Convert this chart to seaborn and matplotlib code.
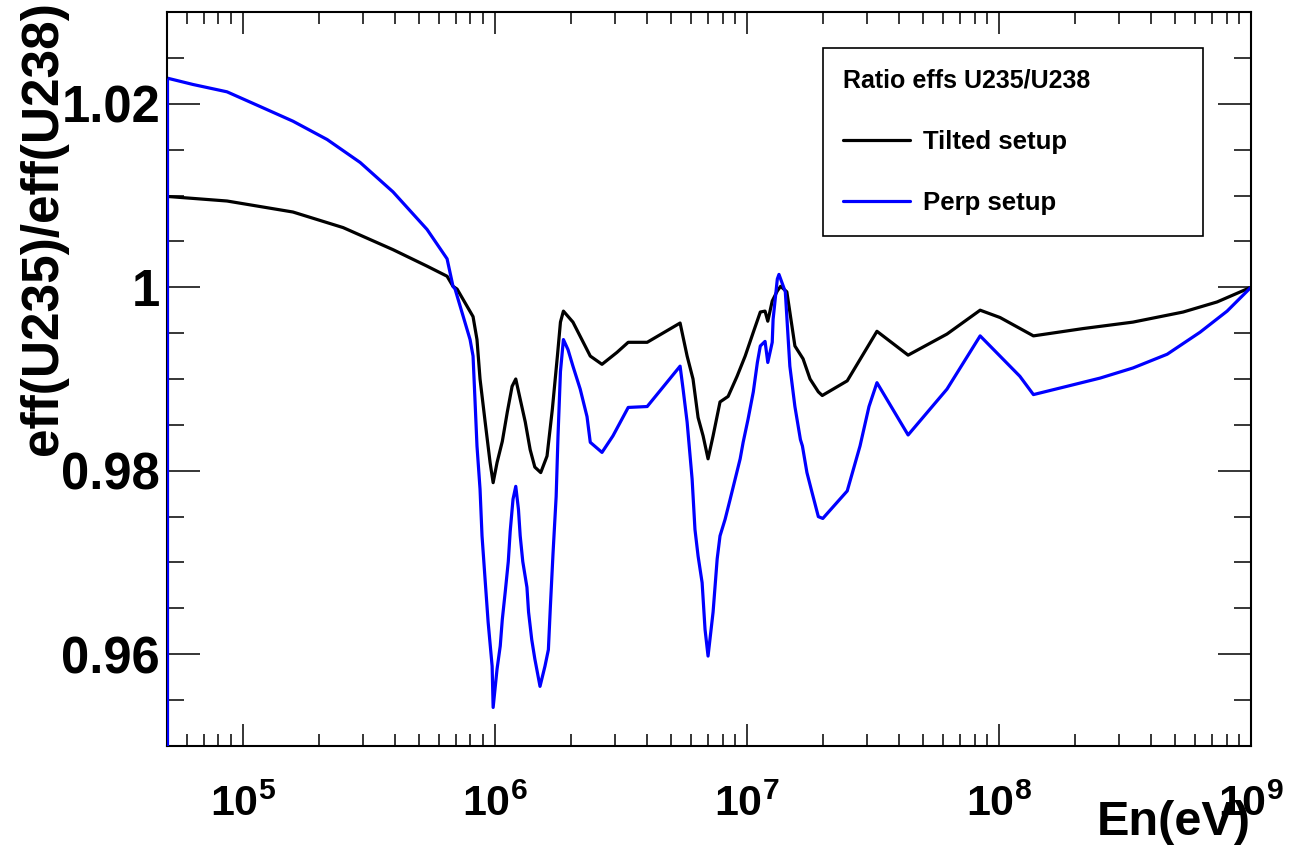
import numpy as np
import pandas as pd
import matplotlib
matplotlib.use("Agg")
import matplotlib.pyplot as plt
import matplotlib.ticker as mticker
import seaborn as sns

# ---------------- data ----------------
tilted_E = [5.0e4, 8.65e4, 1.58e5, 2.50e5, 3.94e5, 5.38e5, 6.46e5, 6.82e5, 7.08e5, 8.19e5,
            8.49e5, 8.73e5, 9.14e5, 9.57e5, 9.84e5, 1.02e6, 1.07e6, 1.12e6, 1.17e6, 1.21e6,
            1.26e6, 1.32e6, 1.38e6, 1.44e6, 1.52e6, 1.61e6, 1.69e6, 1.77e6, 1.82e6, 1.87e6,
            2.04e6, 2.39e6, 2.66e6, 3.05e6, 3.38e6, 4.02e6, 5.43e6, 5.79e6, 6.11e6, 6.40e6,
            6.70e6, 7.01e6, 7.34e6, 7.82e6, 8.42e6, 9.14e6, 9.84e6, 1.06e7, 1.13e7, 1.18e7,
            1.21e7, 1.26e7, 1.32e7, 1.36e7, 1.44e7, 1.51e7, 1.55e7, 1.67e7, 1.78e7, 1.92e7,
            1.99e7, 2.50e7, 3.28e7, 4.36e7, 6.22e7, 8.42e7, 1.01e8, 1.37e8, 2.16e8, 3.40e8,
            5.38e8, 7.34e8, 1.0e9]
tilted_ratio = [1.0099, 1.0094, 1.0082, 1.0065, 1.0041, 1.0023, 1.0012, 1.0001, 0.9998, 0.9968,
                0.9943, 0.9900, 0.9854, 0.9809, 0.9787, 0.9809, 0.9832, 0.9864, 0.9892, 0.9900,
                0.9878, 0.9853, 0.9823, 0.9804, 0.9798, 0.9816, 0.9867, 0.9925, 0.9962, 0.9974,
                0.9962, 0.9925, 0.9916, 0.9929, 0.9940, 0.9940, 0.9961, 0.9925, 0.9900, 0.9858,
                0.9838, 0.9813, 0.9838, 0.9875, 0.9881, 0.9903, 0.9925, 0.9951, 0.9973, 0.9974,
                0.9963, 0.9985, 0.9996, 1.0001, 0.9995, 0.9957, 0.9936, 0.9922, 0.9900, 0.9886,
                0.9882, 0.9898, 0.9952, 0.9926, 0.9949, 0.9975, 0.9967, 0.9947, 0.9955, 0.9962,
                0.9973, 0.9984, 1.0000]

perp_E = [5.0e4, 6.34e4, 8.65e4, 1.17e5, 1.58e5, 2.16e5, 2.92e5, 3.94e5, 5.38e5, 6.46e5,
          6.82e5, 6.95e5, 7.97e5, 8.19e5, 8.34e5, 8.49e5, 8.73e5, 8.89e5, 9.14e5, 9.40e5,
          9.75e5, 9.84e5, 1.02e6, 1.05e6, 1.07e6, 1.10e6, 1.13e6, 1.15e6, 1.18e6, 1.21e6,
          1.24e6, 1.26e6, 1.29e6, 1.34e6, 1.36e6, 1.40e6, 1.44e6, 1.51e6, 1.58e6, 1.63e6,
          1.66e6, 1.70e6, 1.75e6, 1.78e6, 1.82e6, 1.87e6, 1.95e6, 2.04e6, 2.18e6, 2.32e6,
          2.39e6, 2.66e6, 2.94e6, 3.38e6, 4.02e6, 5.43e6, 5.58e6, 5.79e6, 6.06e6, 6.22e6,
          6.40e6, 6.64e6, 6.82e6, 7.01e6, 7.34e6, 7.62e6, 7.82e6, 8.19e6, 8.58e6, 8.98e6,
          9.40e6, 9.66e6, 1.01e7, 1.06e7, 1.10e7, 1.13e7, 1.18e7, 1.21e7, 1.26e7, 1.27e7,
          1.32e7, 1.34e7, 1.42e7, 1.48e7, 1.55e7, 1.63e7, 1.66e7, 1.73e7, 1.81e7, 1.92e7,
          2.00e7, 2.50e7, 2.81e7, 3.05e7, 3.28e7, 4.36e7, 6.22e7, 8.42e7, 1.21e8, 1.37e8,
          1.86e8, 2.52e8, 3.40e8, 4.65e8, 6.28e8, 8.04e8, 1.0e9]
perp_ratio = [1.0228, 1.0221, 1.0213, 1.0197, 1.0181, 1.0161, 1.0136, 1.0104, 1.0063, 1.0031,
              1.0001, 0.9998, 0.9943, 0.9925, 0.9876, 0.9827, 0.9780, 0.9729, 0.9682, 0.9635,
              0.9587, 0.9542, 0.9584, 0.9609, 0.9638, 0.9669, 0.9701, 0.9734, 0.9769, 0.9783,
              0.9758, 0.9729, 0.9701, 0.9673, 0.9646, 0.9616, 0.9595, 0.9565, 0.9587, 0.9605,
              0.9652, 0.9709, 0.9772, 0.9838, 0.9908, 0.9943, 0.9932, 0.9914, 0.9889, 0.9859,
              0.9831, 0.9820, 0.9838, 0.9869, 0.9870, 0.9914, 0.9889, 0.9853, 0.9791, 0.9736,
              0.9707, 0.9678, 0.9627, 0.9598, 0.9646, 0.9704, 0.9729, 0.9747, 0.9769, 0.9791,
              0.9813, 0.9831, 0.9856, 0.9886, 0.9918, 0.9936, 0.9941, 0.9918, 0.9940, 0.9965,
              1.0009, 1.0014, 0.9995, 0.9914, 0.9870, 0.9834, 0.9827, 0.9798, 0.9777, 0.9750,
              0.9748, 0.9778, 0.9827, 0.9870, 0.9896, 0.9839, 0.9889, 0.9947, 0.9903, 0.9883,
              0.9892, 0.9901, 0.9912, 0.9927, 0.9951, 0.9974, 1.0000]

series_names = ["Tilted setup", "Perp setup"]
series_colors = ["black", "blue"]
legend_title = "Ratio effs U235/U238"
x_label = "En(eV)"
y_label = "eff(U235)/eff(U238)"
x_limits = (5e4, 1e9)
y_limits = (0.95, 1.03)

# ---------------- style ----------------
sns.set_style("white")
plt.rcParams["font.family"] = ["Liberation Sans", "DejaVu Sans"]
plt.rcParams["font.weight"] = "bold"
plt.rcParams["mathtext.fontset"] = "custom"
plt.rcParams["mathtext.rm"] = "Liberation Sans:bold"
plt.rcParams["mathtext.bf"] = "Liberation Sans:bold"
plt.rcParams["mathtext.it"] = "Liberation Sans:bold"
for key in ["text.color", "axes.labelcolor", "xtick.color", "ytick.color", "axes.edgecolor"]:
    plt.rcParams[key] = "black"

df = pd.concat([
    pd.DataFrame({"E": tilted_E, "ratio": tilted_ratio, "setup": series_names[0]}),
    pd.DataFrame({"E": perp_E, "ratio": perp_ratio, "setup": series_names[1]}),
], ignore_index=True)

fig = plt.figure(figsize=(12.89, 8.56), dpi=100)
ax = fig.add_axes([167 / 1289, 110 / 856, 1084 / 1289, 734 / 856])

sns.lineplot(data=df, x="E", y="ratio", hue="setup", hue_order=series_names,
             palette=dict(zip(series_names, series_colors)), estimator=None,
             sort=False, linewidth=2.3, ax=ax, legend=True)

ax.set_xscale("log")
ax.set_xlim(*x_limits)
ax.set_ylim(*y_limits)

# ROOT histogram draws the first bin edge from the bottom of the frame
ax.vlines(perp_E[0], y_limits[0], perp_ratio[0], color=series_colors[1], linewidth=2.3, zorder=3)

# ticks
ax.xaxis.set_major_locator(mticker.LogLocator(base=10, numticks=20))
ax.xaxis.set_minor_locator(mticker.LogLocator(base=10, subs=np.arange(2, 10), numticks=50))
ax.xaxis.set_minor_formatter(mticker.NullFormatter())
ax.xaxis.set_major_formatter(mticker.FuncFormatter(
    lambda v, p: r"$\mathbf{10^{%d}}$" % int(round(np.log10(v)))))
ax.yaxis.set_major_locator(mticker.MultipleLocator(0.02))
ax.yaxis.set_minor_locator(mticker.MultipleLocator(0.005))
ax.yaxis.set_major_formatter(mticker.FuncFormatter(lambda v, p: "%g" % round(v, 4)))

ax.tick_params(which="both", direction="in", top=True, right=True, bottom=True, left=True,
               width=1.1, color="black")
ax.tick_params(axis="x", which="major", length=16, labelsize=31, pad=28)
ax.tick_params(axis="x", which="minor", length=8.5)
ax.tick_params(axis="y", which="major", length=24, labelsize=36.5, pad=5)
ax.tick_params(axis="y", which="minor", length=12)

for s in ax.spines.values():
    s.set_linewidth(1.5)
    s.set_color("black")

ax.set_xlabel(x_label, fontsize=35, fontweight="bold", loc="right")
ax.xaxis.set_label_coords(1.0, -0.074)
ax.set_ylabel(y_label, fontsize=37, fontweight="bold", loc="top")
ax.yaxis.set_label_coords(-0.091, 1.015)

handles, labels = ax.get_legend_handles_labels()
leg = ax.legend(handles, labels, title=legend_title, loc="upper left",
                bbox_to_anchor=(0.605, 0.70, 0.351, 0.251), mode="expand",
                borderaxespad=0, fancybox=False, framealpha=1, edgecolor="black",
                prop={"weight": "bold", "size": 18.5},
                title_fontproperties={"weight": "bold", "size": 18},
                alignment="left", handlelength=2.6, handletextpad=0.5,
                labelspacing=1.45, borderpad=0.8)
leg.get_frame().set_linewidth(1.2)
for line in leg.get_lines():
    line.set_linewidth(2.3)

fig.savefig("out.png", dpi=100)
